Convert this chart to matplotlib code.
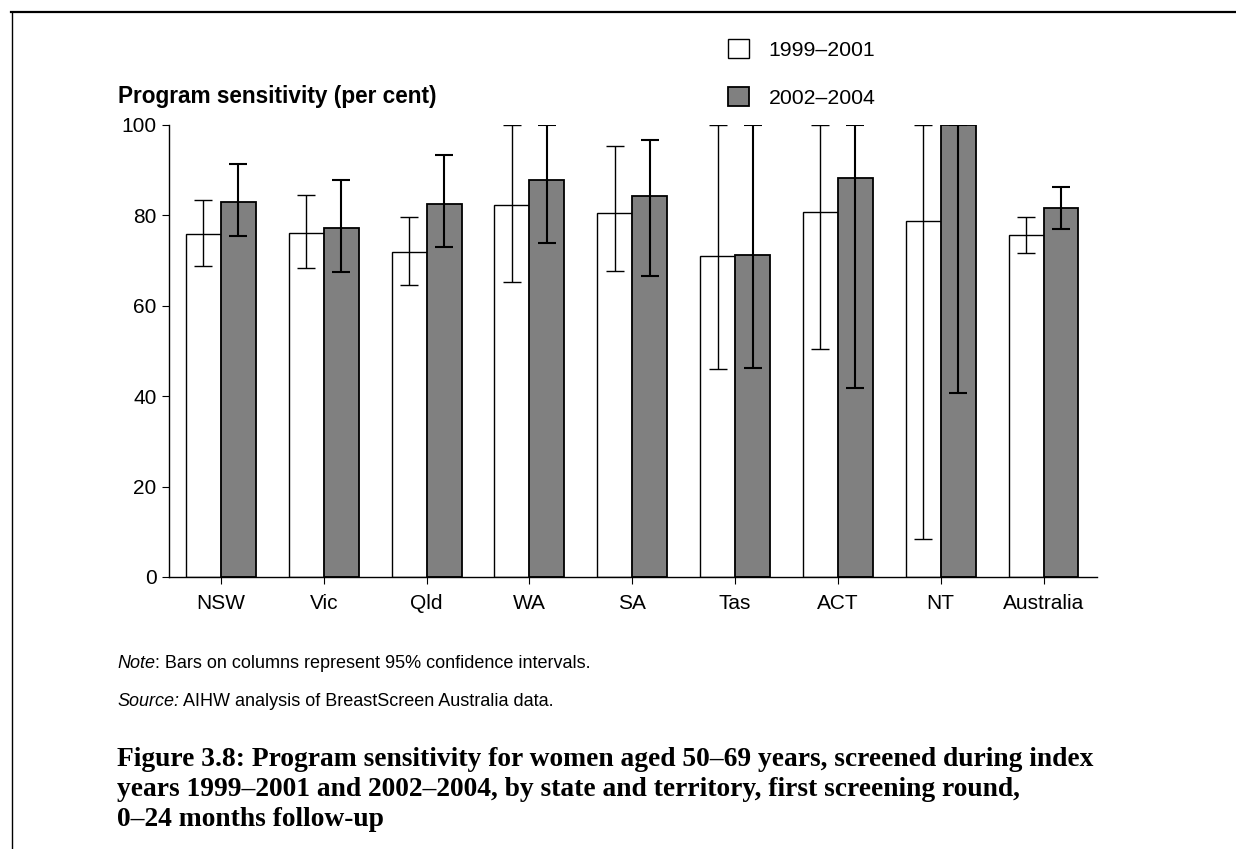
import numpy as np
import matplotlib.pyplot as plt
from matplotlib.lines import Line2D

# Datos
regions = ['NSW', 'Vic', 'Qld', 'WA', 'SA', 'Tas', 'ACT', 'NT', 'Australia']
sens_9901 = [75.8, 76.2, 71.9, 82.3, 80.6, 71.0, 80.7, 78.8, 75.6]
low_9901 = [68.8, 68.4, 64.7, 65.2, 67.6, 46.0, 50.4, 8.3, 71.7]
high_9901 = [83.3, 84.6, 79.6, 100.0, 95.4, 100.0, 100.0, 100.0, 79.6]
sens_0204 = [83.0, 77.2, 82.5, 87.8, 84.4, 71.2, 88.2, 100.0, 81.6]
low_0204 = [75.4, 67.4, 72.9, 73.9, 66.5, 46.2, 41.8, 40.7, 77.1]
high_0204 = [91.4, 87.8, 93.3, 100.0, 96.7, 100.0, 100.0, 100.0, 86.3]
yticks = [0, 20, 40, 60, 80, 100]

W, H = 1236, 849
plt.rcParams['font.family'] = ['Liberation Sans', 'DejaVu Sans']

fig = plt.figure(figsize=(W / 100, H / 100), dpi=100)
ax = fig.add_axes([169 / W, 1 - 577 / H, (1097 - 169) / W, (577 - 125) / H])

x = np.arange(len(regions))
w = 0.34
v1 = np.array(sens_9901)
v2 = np.array(sens_0204)
err1 = [v1 - np.array(low_9901), np.array(high_9901) - v1]
err2 = [v2 - np.array(low_0204), np.array(high_0204) - v2]

b1 = ax.bar(x - w / 2, v1, w, color='white', edgecolor='black', linewidth=1.0,
            label='1999–2001', zorder=2)
b2 = ax.bar(x + w / 2, v2, w, color='#808080', edgecolor='black', linewidth=1.3,
            label='2002–2004', zorder=2)
ax.errorbar(x - w / 2, v1, yerr=err1, fmt='none', ecolor='black', elinewidth=1.0,
            capsize=6.5, capthick=1.0, zorder=3)
ax.errorbar(x + w / 2, v2, yerr=err2, fmt='none', ecolor='black', elinewidth=1.5,
            capsize=6.5, capthick=1.5, zorder=3)

ax.set_xlim(-0.505, 8.52)
ax.set_ylim(0, 100)
ax.set_yticks(yticks)
ax.set_xticks(x)
ax.set_xticklabels(regions)
for s in ['top', 'right']:
    ax.spines[s].set_visible(False)
for s in ['left', 'bottom']:
    ax.spines[s].set_linewidth(1.0)
ax.tick_params(axis='both', direction='out', length=5, width=0.8, labelsize=15, pad=4)
ax.tick_params(axis='x', pad=7)

ax.legend(handles=[b1, b2], loc='upper left', bbox_to_anchor=(728 / W, 1 - 39 / H),
          bbox_transform=fig.transFigure, frameon=False, fontsize=15.3,
          handlelength=1.0, handleheight=1.0, handletextpad=0.9, labelspacing=1.3,
          borderpad=0, borderaxespad=0)

fig.text(118 / W, 1 - 96 / H, 'Program sensitivity (per cent)', fontsize=16.3,
         fontweight='bold', va='center', ha='left')


def label_line(y, head, rest, size=13):
    # parte en cursiva seguida del resto en redonda
    t = fig.text(117 / W, 1 - y / H, head, fontsize=size, style='italic',
                 va='center', ha='left')
    fig.canvas.draw()
    bb = t.get_window_extent()
    fig.text(bb.x1 / W, 1 - y / H, rest, fontsize=size, va='center', ha='left')


label_line(663, 'Note', ': Bars on columns represent 95% confidence intervals.')
label_line(701, 'Source:', ' AIHW analysis of BreastScreen Australia data.')

caption = ['Figure 3.8: Program sensitivity for women aged 50–69 years, screened during index',
           'years 1999–2001 and 2002–2004, by state and territory, first screening round,',
           '0–24 months follow-up']
for i, line in enumerate(caption):
    fig.text(117 / W, 1 - (759 + 30 * i) / H, line, fontsize=19.8, fontweight='bold',
             family=['Liberation Serif', 'DejaVu Serif'], va='center', ha='left')

# marco de la página
fig.add_artist(Line2D([11 / W, 1], [1 - 12 / H, 1 - 12 / H], color='black', lw=1.6,
                      transform=fig.transFigure))
fig.add_artist(Line2D([11.5 / W, 11.5 / W], [0, 1 - 12 / H], color='black', lw=1.0,
                      transform=fig.transFigure))

fig.savefig('out.png', dpi=100)
